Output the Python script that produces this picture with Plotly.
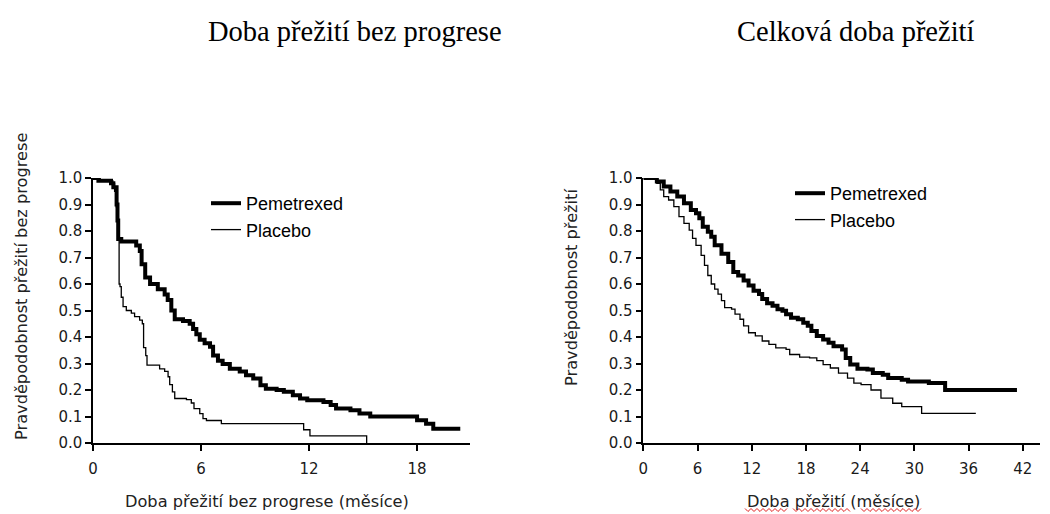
import plotly.graph_objects as go

# ---------------- data ----------------
# Progression-free survival (months, survival probability) - step points
pfs_pem_t = [0, 0.3, 1.0, 1.13, 1.31, 1.36, 1.4, 1.57, 2.4, 2.6, 2.7, 2.9, 3.17, 3.6, 3.98,
             4.15, 4.35, 4.54, 5.0, 5.37, 5.56, 5.74, 5.93, 6.2, 6.5, 6.67, 6.94, 7.2, 7.6, 8.15,
             8.5, 8.9, 9.3, 9.6, 10.2, 10.6, 11.1, 11.5, 11.9, 12.8, 13.2, 13.5, 14.3, 14.8, 15.4,
             18.0, 18.5, 18.9, 20.4]
pfs_pem_s = [1.0, 0.99, 0.98, 0.965, 0.90, 0.84, 0.77, 0.76, 0.745, 0.725, 0.675, 0.625, 0.60, 0.58, 0.56,
             0.54, 0.50, 0.467, 0.46, 0.45, 0.43, 0.41, 0.39, 0.376, 0.363, 0.33, 0.31, 0.298, 0.28, 0.27,
             0.256, 0.243, 0.218, 0.205, 0.20, 0.193, 0.18, 0.168, 0.161, 0.155, 0.143, 0.13, 0.124, 0.111, 0.10,
             0.086, 0.073, 0.054, 0.054]

pfs_pla_t = [0, 0.4, 1.1, 1.2, 1.3, 1.4, 1.45, 1.5, 1.57, 1.67, 1.85, 2.13, 2.31, 2.59, 2.74, 2.81,
             2.93, 3.0, 3.7, 3.98, 4.17, 4.26, 4.41, 4.54, 5.19, 5.46, 5.61, 5.93, 6.11, 6.3, 7.13,
             11.7, 12.05, 15.2]
pfs_pla_s = [1.0, 0.99, 0.98, 0.95, 0.89, 0.80, 0.60, 0.59, 0.55, 0.515, 0.50, 0.49, 0.477, 0.464, 0.45, 0.36,
             0.33, 0.294, 0.28, 0.27, 0.25, 0.22, 0.193, 0.168, 0.164, 0.151, 0.13, 0.111, 0.092, 0.085, 0.073,
             0.05, 0.027, 0.0]

# Overall survival
os_pem_t = [0, 1.13, 1.5, 2.26, 3.0, 3.76, 4.5, 5.26, 5.83, 6.2, 6.58, 7.14, 7.52, 7.9, 8.65,
            9.4, 9.96, 10.5, 11.1, 11.65, 12.2, 12.8, 13.16, 13.7, 14.3, 14.85, 15.4, 15.8, 16.35, 17.1,
            17.7, 18.2, 18.6, 19.2, 19.9, 20.5, 21.05, 22.0, 22.4, 22.9, 23.7, 24.8, 25.4, 26.5, 27.1,
            28.6, 29.3, 31.6, 33.4, 41.35]
os_pem_s = [1.0, 1.0, 0.987, 0.968, 0.949, 0.93, 0.905, 0.879, 0.867, 0.848, 0.816, 0.797, 0.778, 0.746, 0.714,
            0.683, 0.645, 0.632, 0.613, 0.594, 0.575, 0.562, 0.543, 0.527, 0.518, 0.505, 0.499, 0.486, 0.473, 0.467,
            0.454, 0.442, 0.423, 0.404, 0.391, 0.378, 0.365, 0.353, 0.321, 0.296, 0.28, 0.277, 0.264, 0.258, 0.245,
            0.239, 0.232, 0.226, 0.2, 0.2]

os_pla_t = [0, 1.5, 1.88, 2.26, 2.8, 3.38, 3.95, 4.5, 5.08, 5.45, 5.83, 6.4, 6.77, 7.14, 7.52,
            7.9, 8.27, 8.65, 9.0, 9.77, 10.15, 10.7, 11.1, 11.65, 12.4, 13.16, 13.9, 14.66, 15.8, 16.2,
            17.3, 18.4, 19.2, 19.9, 20.7, 21.6, 22.6, 23.3, 24.1, 25.2, 26.3, 27.6, 28.6, 30.8, 36.8]
os_pla_s = [1.0, 0.98, 0.955, 0.93, 0.917, 0.892, 0.854, 0.829, 0.803, 0.772, 0.746, 0.708, 0.67, 0.632, 0.60,
            0.581, 0.562, 0.537, 0.511, 0.505, 0.486, 0.467, 0.442, 0.416, 0.404, 0.385, 0.372, 0.359, 0.353, 0.334,
            0.324, 0.321, 0.311, 0.296, 0.283, 0.264, 0.245, 0.226, 0.22, 0.20, 0.169, 0.15, 0.137, 0.112, 0.112]

series_names = ["Pemetrexed", "Placebo"]
pfs_xticks = [0, 6, 12, 18]
os_xticks = [0, 6, 12, 18, 24, 30, 36, 42]
y_ticks = [0.0, 0.1, 0.2, 0.3, 0.4, 0.5, 0.6, 0.7, 0.8, 0.9, 1.0]

title_left = "Doba přežití bez progrese"
title_right = "Celková doba přežití"
xtitle_left = "Doba přežití bez progrese (měsíce)"
xtitle_right = "Doba přežití (měsíce)"
ytitle_left = "Pravděpodobnost přežití bez progrese"
ytitle_right = "Pravděpodobnost přežití"

# ---------------- figure ----------------
W, H = 1050, 514
def px(x):
    return x / W
def py(y):
    return 1 - y / H

fig = go.Figure()
thick, thin = 4, 1.3
fig.add_trace(go.Scatter(x=pfs_pem_t, y=pfs_pem_s, mode="lines", line=dict(color="black", width=thick, shape="hv"),
                         name=series_names[0], xaxis="x", yaxis="y", legend="legend"))
fig.add_trace(go.Scatter(x=pfs_pla_t, y=pfs_pla_s, mode="lines", line=dict(color="black", width=thin, shape="hv"),
                         name=series_names[1], xaxis="x", yaxis="y", legend="legend"))
fig.add_trace(go.Scatter(x=os_pem_t, y=os_pem_s, mode="lines", line=dict(color="black", width=thick, shape="hv"),
                         name=series_names[0], xaxis="x2", yaxis="y2", legend="legend2"))
fig.add_trace(go.Scatter(x=os_pla_t, y=os_pla_s, mode="lines", line=dict(color="black", width=thin, shape="hv"),
                         name=series_names[1], xaxis="x2", yaxis="y2", legend="legend2"))

tickfont = dict(family="DejaVu Sans", size=15, color="#1a1a1a")
axis_common = dict(showline=True, linecolor="black", linewidth=1.5, ticks="outside", ticklen=6,
                   tickwidth=1.5, tickcolor="black", showgrid=False, zeroline=False, tickfont=tickfont,
                   automargin=False)

ydom = [py(443), py(178)]
legfont = dict(family="Liberation Sans", size=18, color="black")
fig.update_layout(
    width=W, height=H, margin=dict(l=0, r=0, t=0, b=0),
    paper_bgcolor="white", plot_bgcolor="white",
    xaxis=dict(domain=[px(93), px(470)], range=[0, 20.94], tickvals=pfs_xticks, anchor="y",
               ticklabelstandoff=5, **axis_common),
    yaxis=dict(domain=ydom, range=[0, 1], tickvals=y_ticks, tickformat=".1f", anchor="x", **axis_common),
    xaxis2=dict(domain=[px(643.3), px(1040)], range=[0, 43.9], tickvals=os_xticks, anchor="y2",
                ticklabelstandoff=5, **axis_common),
    yaxis2=dict(domain=ydom, range=[0, 1], tickvals=y_ticks, tickformat=".1f", anchor="x2", **axis_common),
    legend=dict(x=px(206), y=py(185), xanchor="left", yanchor="top", bgcolor="rgba(0,0,0,0)",
                font=legfont, tracegroupgap=0),
    legend2=dict(x=px(790), y=py(175), xanchor="left", yanchor="top", bgcolor="rgba(0,0,0,0)",
                 font=legfont, tracegroupgap=0),
    showlegend=True,
)

serif = dict(family="Liberation Serif", size=28.5, color="black")
lab = dict(family="DejaVu Sans", size=16.2, color="#222")
annotations = [
    dict(text=title_left, x=px(355), y=py(31), font=serif),
    dict(text=title_right, x=px(856), y=py(31), font=serif),
    dict(text=xtitle_left, x=px(267), y=py(501), font=lab),
    dict(text=xtitle_right, x=px(833), y=py(501), font=lab),
    dict(text=ytitle_left, x=px(21), y=py(287), font=lab, textangle=-90),
    dict(text=ytitle_right, x=px(571), y=py(288), font=lab, textangle=-90),
]
for a in annotations:
    a.update(xref="paper", yref="paper", showarrow=False, xanchor="center", yanchor="middle")
fig.update_layout(annotations=annotations)

# red spell-check squiggles under the right x-axis title words
def squiggle(x0, x1, y, amp=1.5, step=3):
    pts = []
    x = x0
    up = True
    while x <= x1:
        pts.append((x, y - amp if up else y + amp))
        up = not up
        x += step
    return "M " + " L ".join(f"{px(a):.5f},{py(b):.5f}" for a, b in pts)

for x0, x1 in [(745, 787), (793, 851), (861, 921)]:
    fig.add_shape(type="path", path=squiggle(x0, x1, 510), xref="paper", yref="paper",
                  line=dict(color="#e02020", width=1))

# the page's default 8px body margin would shift the figure; remove it
fig.write_html("out.html", config={"displayModeBar": False},
               post_script="document.body.style.margin='0';")
